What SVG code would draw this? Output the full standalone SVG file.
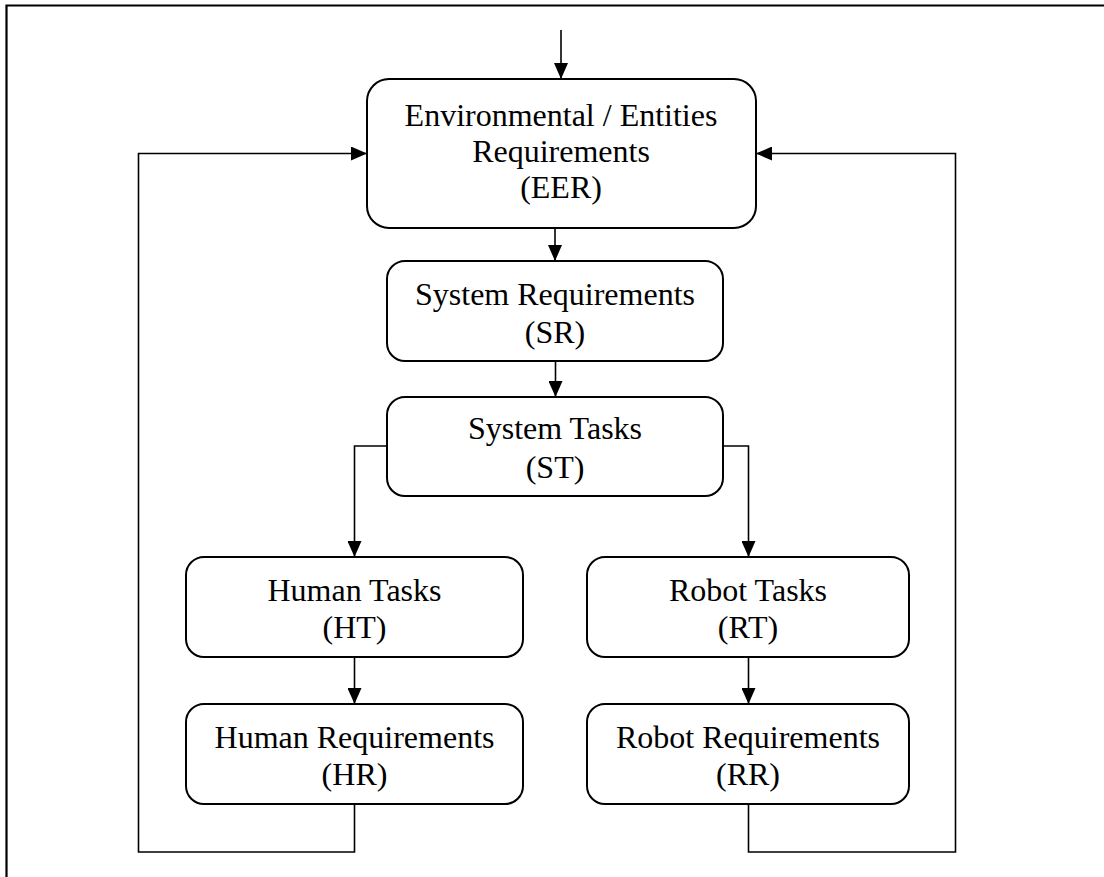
<svg xmlns="http://www.w3.org/2000/svg" width="1104" height="877" viewBox="0 0 1104 877">
  <style>
    .box { fill: #ffffff; stroke: #000000; stroke-width: 2; }
    .wire { fill: none; stroke: #000000; stroke-width: 1.6; }
    .lbl { font-family: "Liberation Serif", "Times New Roman", serif; font-size: 32px; fill: #000000; text-anchor: middle; }
  </style>
  <defs>
    <marker id="arrow" viewBox="0 0 16 14" refX="16" refY="7" markerWidth="16" markerHeight="14" markerUnits="userSpaceOnUse" orient="auto">
      <path d="M0,0 L16,7 L0,14 Z" fill="#000000"/>
    </marker>
  </defs>

  <rect width="1104" height="877" fill="#ffffff"/>

  <!-- frame (top and left edges) -->
  <path d="M6.5,877 V5.5 H1104" fill="none" stroke="#000000" stroke-width="2.2"/>

  <g id="connectors">
    <path class="wire" d="M561,30 V79" marker-end="url(#arrow)"/>
    <path class="wire" d="M555,228 V261" marker-end="url(#arrow)"/>
    <path class="wire" d="M555.5,361 V397" marker-end="url(#arrow)"/>
    <path class="wire" d="M387,446 H354.5 V557" marker-end="url(#arrow)"/>
    <path class="wire" d="M723,446 H748.5 V557" marker-end="url(#arrow)"/>
    <path class="wire" d="M354.5,657 V704" marker-end="url(#arrow)"/>
    <path class="wire" d="M748.5,657 V704" marker-end="url(#arrow)"/>
    <path class="wire" d="M354.5,804 V852 H138.5 V153.5 H367" marker-end="url(#arrow)"/>
    <path class="wire" d="M748.5,804 V852 H955.5 V153.5 H756" marker-end="url(#arrow)"/>
  </g>

  <g id="eer">
    <rect class="box" x="367" y="79" width="389" height="149" rx="22" ry="22"/>
    <text class="lbl" x="561" y="126">Environmental / Entities</text>
    <text class="lbl" x="561" y="162">Requirements</text>
    <text class="lbl" x="561" y="198">(EER)</text>
  </g>

  <g id="sr">
    <rect class="box" x="387" y="261" width="336" height="100" rx="18" ry="18"/>
    <text class="lbl" x="555" y="305">System Requirements</text>
    <text class="lbl" x="555" y="343">(SR)</text>
  </g>

  <g id="st">
    <rect class="box" x="387" y="397" width="336" height="99" rx="18" ry="18"/>
    <text class="lbl" x="555" y="439">System Tasks</text>
    <text class="lbl" x="555" y="478">(ST)</text>
  </g>

  <g id="ht">
    <rect class="box" x="186" y="557" width="337" height="100" rx="18" ry="18"/>
    <text class="lbl" x="354.5" y="601">Human Tasks</text>
    <text class="lbl" x="354.5" y="638">(HT)</text>
  </g>

  <g id="hr">
    <rect class="box" x="186" y="704" width="337" height="100" rx="18" ry="18"/>
    <text class="lbl" x="354.5" y="748">Human Requirements</text>
    <text class="lbl" x="354.5" y="785">(HR)</text>
  </g>

  <g id="rt">
    <rect class="box" x="587" y="557" width="322" height="100" rx="18" ry="18"/>
    <text class="lbl" x="748" y="601">Robot Tasks</text>
    <text class="lbl" x="748" y="638">(RT)</text>
  </g>

  <g id="rr">
    <rect class="box" x="587" y="704" width="322" height="100" rx="18" ry="18"/>
    <text class="lbl" x="748" y="748">Robot Requirements</text>
    <text class="lbl" x="748" y="785">(RR)</text>
  </g>
</svg>
